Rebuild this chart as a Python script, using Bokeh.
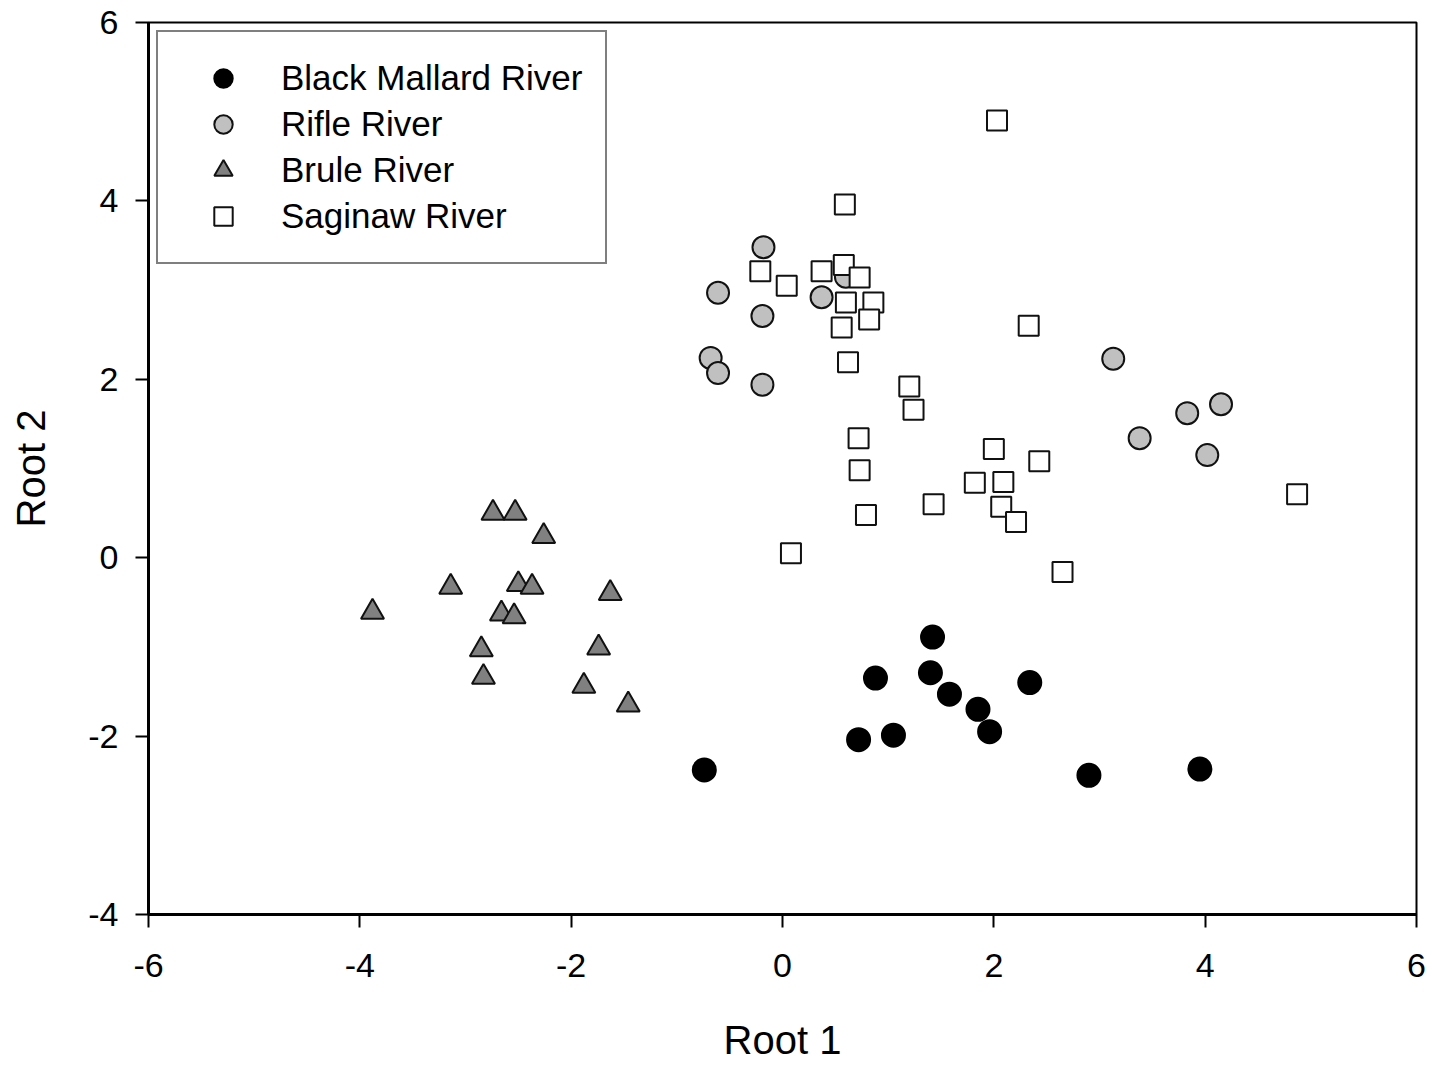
from bokeh.plotting import figure
from bokeh.models import ColumnDataSource, FixedTicker, Legend, LegendItem, Range1d
from bokeh.embed import file_html
from bokeh.resources import INLINE

# Discriminant function scores (Root 1, Root 2) for each river
black_mallard_root1 = [-0.74, 0.88, 1.42, 1.40, 1.58, 1.85, 1.96, 2.34, 0.72, 1.05, 2.90, 3.95]
black_mallard_root2 = [-2.38, -1.35, -0.89, -1.29, -1.53, -1.70, -1.95, -1.40, -2.04, -1.99, -2.44, -2.37]

rifle_root1 = [-0.18, -0.61, -0.19, -0.68, -0.61, -0.19, 0.37, 0.60, 3.13, 3.38, 3.83, 4.02, 4.15]
rifle_root2 = [3.48, 2.97, 2.71, 2.24, 2.07, 1.94, 2.92, 3.15, 2.23, 1.34, 1.62, 1.15, 1.72]

brule_root1 = [-2.74, -2.53, -2.26, -3.14, -3.88, -2.50, -2.37, -1.63, -2.66, -2.54, -2.85, -2.83, -1.74, -1.88, -1.46]
brule_root2 = [0.50, 0.50, 0.24, -0.33, -0.61, -0.30, -0.33, -0.40, -0.63, -0.66, -1.03, -1.34, -1.01, -1.44, -1.65]

saginaw_root1 = [2.03, 0.59, -0.21, 0.04, 0.37, 0.58, 0.73, 0.60, 0.86, 0.56, 0.82, 0.62, 1.20, 1.24,
                 0.72, 0.73, 0.79, 0.08, 1.43, 1.82, 2.00, 2.09, 2.07, 2.21, 2.43, 2.33, 2.65, 4.87]
saginaw_root2 = [4.90, 3.96, 3.21, 3.05, 3.21, 3.28, 3.14, 2.86, 2.86, 2.58, 2.67, 2.19, 1.92, 1.66,
                 1.34, 0.98, 0.48, 0.05, 0.60, 0.84, 1.22, 0.85, 0.57, 0.40, 1.08, 2.60, -0.16, 0.71]

rivers = ["Black Mallard River", "Rifle River", "Brule River", "Saginaw River"]

x_ticks = [-6, -4, -2, 0, 2, 4, 6]
y_ticks = [-4, -2, 0, 2, 4, 6]
x_tick_labels = ["-6", "-4", "-2", "0", "2", "4", "6"]
y_tick_labels = ["-4", "-2", "0", "2", "4", "6"]

FONT = "Liberation Sans"

p = figure(
    width=1432, height=1067,
    x_range=Range1d(-6, 6), y_range=Range1d(-4, 6),
    x_axis_label="Root 1", y_axis_label="Root 2",
    output_backend="svg", toolbar_location=None,
    min_border_left=148, min_border_right=16,
    min_border_top=22, min_border_bottom=153,
)
p.background_fill_color = "white"
p.border_fill_color = "white"
p.outline_line_color = "black"
p.outline_line_width = 2
p.xgrid.visible = False
p.ygrid.visible = False

p.xaxis.ticker = FixedTicker(ticks=x_ticks)
p.yaxis.ticker = FixedTicker(ticks=y_ticks)
p.xaxis.major_label_overrides = dict(zip(x_ticks, x_tick_labels))
p.yaxis.major_label_overrides = dict(zip(y_ticks, y_tick_labels))

for ax in (p.xaxis[0], p.yaxis[0]):
    ax.axis_line_color = "black"
    ax.axis_line_width = 3
    ax.major_tick_line_color = "black"
    ax.major_tick_line_width = 2
    ax.major_tick_out = 13
    ax.major_tick_in = 0
    ax.minor_tick_line_color = None
    ax.major_label_text_font = FONT
    ax.major_label_text_font_size = "34px"
    ax.major_label_text_color = "black"
    ax.axis_label_text_font = FONT
    ax.axis_label_text_font_size = "40px"
    ax.axis_label_text_font_style = "normal"
    ax.axis_label_text_color = "black"

p.xaxis.major_label_standoff = 26
p.xaxis.axis_label_standoff = 38
p.yaxis.major_label_standoff = 17
p.yaxis.axis_label_standoff = 32

r_black = p.scatter(
    source=ColumnDataSource(dict(x=black_mallard_root1, y=black_mallard_root2)),
    x="x", y="y", marker="circle", size=23,
    fill_color="black", line_color="black", line_width=2,
)
r_rifle = p.scatter(
    source=ColumnDataSource(dict(x=rifle_root1, y=rifle_root2)),
    x="x", y="y", marker="circle", size=22,
    fill_color="#c0c0c0", line_color="#111111", line_width=2,
)
r_brule = p.scatter(
    source=ColumnDataSource(dict(x=brule_root1, y=brule_root2)),
    x="x", y="y", marker="triangle", size=23,
    fill_color="#808080", line_color="#111111", line_width=2,
)
r_saginaw = p.scatter(
    source=ColumnDataSource(dict(x=saginaw_root1, y=saginaw_root2)),
    x="x", y="y", marker="square", size=20,
    fill_color="white", line_color="#111111", line_width=2,
)

legend = Legend(
    items=[LegendItem(label=name, renderers=[r])
           for name, r in zip(rivers, [r_black, r_rifle, r_brule, r_saginaw])],
    location="top_left", margin=8, padding=23, spacing=0,
    glyph_width=84, glyph_height=46, label_height=46, label_standoff=16,
    label_text_font=FONT, label_text_font_size="35px", label_text_color="black",
    border_line_color="black", border_line_width=2,
    background_fill_color="white", background_fill_alpha=1.0,
)
p.add_layout(legend)

open("out.html", "w").write(file_html(p, INLINE))
